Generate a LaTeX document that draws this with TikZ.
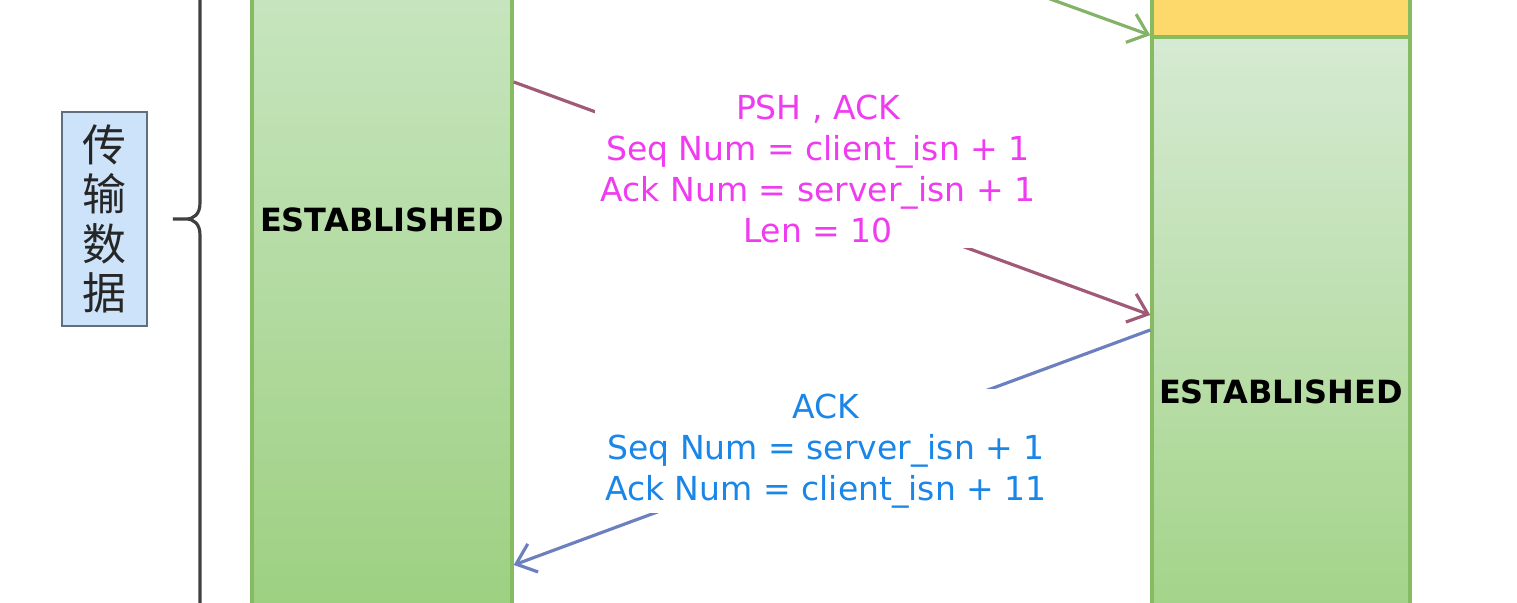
\documentclass[tikz,border=0pt]{standalone}
\usepackage{fontspec}
\setmainfont{DejaVu Sans}
\newfontfamily\cjk{Noto Sans CJK SC}
\usetikzlibrary{arrows.meta}

\definecolor{barline}{HTML}{86BB62}
\definecolor{pshtext}{HTML}{F03CF0}
\definecolor{pshline}{HTML}{A05A78}
\definecolor{acktext}{HTML}{1A86E8}
\definecolor{ackline}{HTML}{6C80C0}
\definecolor{synline}{HTML}{82B366}
\definecolor{taskfill}{HTML}{CCE3FA}
\definecolor{taskline}{HTML}{5F6F80}
\definecolor{clitop}{HTML}{C7E5BF}
\definecolor{clibot}{HTML}{9DD081}
\definecolor{srvtopc}{HTML}{D6EAD3}
\definecolor{srvbot}{HTML}{A3D489}
\definecolor{yellowpart}{HTML}{FDD86A}

\begin{document}
\begin{tikzpicture}[
    bar/.style={draw=barline, line width=1pt, minimum width=2.6cm, inner sep=0pt},
    state/.style={font=\fontsize{9.1}{11}\selectfont\bfseries},
    msg/.style={font=\fontsize{9.4}{11.6}\selectfont, align=center, fill=white, inner sep=1.5pt},
    >={Straight Barb[length=1.8mm,width=3mm]}
  ]
  \clip (0,0) rectangle (15.17,6.03);   % visible frame

  % client bar on the left
  \node[bar, top color=clitop, bottom color=clibot, minimum height=6.23cm] (cli) at (3.82,3.015) {};
  \node[state] (cliest) at (3.82,3.83) {ESTABLISHED};

  % server bar on the right, yellow part on top
  \node[bar, fill=yellowpart, minimum width=2.58cm, minimum height=0.47cm] (srvtop) at (12.81,5.895) {};
  \node[bar, top color=srvtopc, bottom color=srvbot, minimum width=2.58cm, minimum height=5.76cm] (srv) at (12.81,2.78) {};
  \node[state] (srvest) at (12.81,2.11) {ESTABLISHED};

  % arrow coming in from above
  \coordinate (synstart) at (5.12,7.99);
  \draw[->, synline, line width=0.9pt] (synstart) -- (srv.north west);

  % data segment, client -> server
  \draw[->, pshline, line width=0.9pt] (cli.east |- 0,5.21) -- (srv.west |- 0,2.88);
  \node[msg, text=pshtext] (psh) at (8.18,4.34) {PSH , ACK\\Seq Num = client\_isn + 1\\Ack Num = server\_isn + 1\\Len = 10};

  % ack, server -> client
  \draw[->, ackline, line width=0.9pt] (srv.west |- 0,2.73) -- (cli.east |- 0,0.38);
  \node[msg, text=acktext] (ack) at (8.26,1.52) {ACK\\Seq Num = server\_isn + 1\\Ack Num = client\_isn + 11};

  % brace and its label
  \draw[line width=0.9pt, black!75] (2.00,6.2) -- (2.00,4.00)
    .. controls (2.00,3.89) and (1.94,3.84) .. (1.86,3.84) -- (1.73,3.84)
    (1.86,3.84) .. controls (1.94,3.84) and (2.00,3.79) .. (2.00,3.68) -- (2.00,-0.2);
  \node[draw=taskline, fill=taskfill, line width=0.7pt, minimum width=0.85cm, minimum height=2.14cm,
        align=center, font=\fontsize{12.5}{14}\selectfont\cjk, text=black!85] (xfer) at (1.045,3.84) {传\\输\\数\\据};
\end{tikzpicture}
\end{document}
